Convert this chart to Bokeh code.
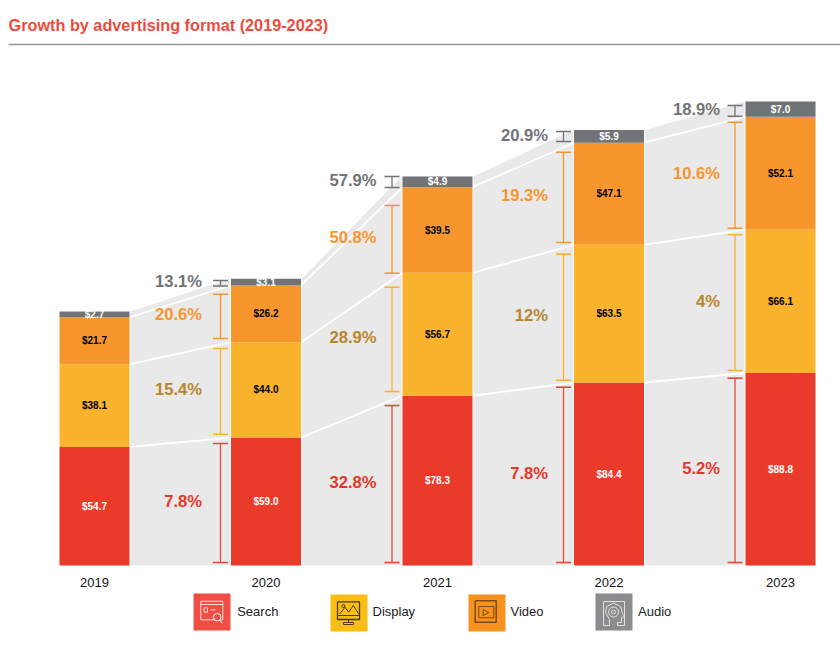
from bokeh.embed import file_html
from bokeh.resources import INLINE
from bokeh.plotting import figure
from bokeh.models import Range1d, LinearAxis, FixedTicker
from bokeh.core.properties import value

# ---- data ----
years = [2019, 2020, 2021, 2022, 2023]
tick_labels = ["2019", "2020", "2021", "2022", "2023"]
search = [54.7, 59.0, 78.3, 84.4, 88.8]
display = [38.1, 44.0, 56.7, 63.5, 66.1]
video = [21.7, 26.2, 39.5, 47.1, 52.1]
audio = [2.7, 3.1, 4.9, 5.9, 7.0]
search_growth = ["7.8%", "32.8%", "7.8%", "5.2%"]
display_growth = ["15.4%", "28.9%", "12%", "4%"]
video_growth = ["20.6%", "50.8%", "19.3%", "10.6%"]
audio_growth = ["13.1%", "57.9%", "20.9%", "18.9%"]
series_names = ["Search", "Display", "Video", "Audio"]

# ---- style / layout ----
FONT = value("Liberation Sans")
RED, YEL, ORG, GRY = "#ea3a29", "#f9b32c", "#f7962d", "#717376"
BAND = "#e9e9e9"
PCT_COL = ["#e5372a", "#b8862e", "#f7962d", "#717376"]
BRK_COL = ["#e8473c", "#f9b32c", "#f7962d", "#717376"]
ORG_X, ORG_Y = 0, 0      # window position of the figure's top-left corner
W, FH = 840, 638
PX_PER_YEAR = 171.5
PX_PER_VAL = 2.168
BASE_Y = 565.0
X2019 = 94.0
BAR_PX = 70.0
# bracket end gaps (px) per segment, per year 2020..2023: (low, high)
GAPS = {
    0: [(3, 5.9), (3, 9.8), (3, 4.7), (3, 5.2)],
    1: [(3.4, 6.3), (4.2, 14.4), (2.3, 9.3), (2.5, 5.1)],
    2: [(3.7, 8.8), (-0.4, 18.3), (2.4, 9.5), (1.5, 5.5)],
    3: [(-0.6, 1.8), (-0.3, 0.0), (1.2, 1.6), (0.5, 4.0)],
}
LAB_OFF_PX = [18.5, 15.5, 15.5, 15.0]   # growth label right end to bracket
LAB_UP_PX = 1.5

p = figure(width=W, frame_width=W, frame_height=FH, output_backend="svg", toolbar_location=None,
           x_range=Range1d(2019 + (ORG_X - X2019) / PX_PER_YEAR, 2019 + (ORG_X + W - X2019) / PX_PER_YEAR),
           y_range=Range1d((BASE_Y - (ORG_Y + FH)) / PX_PER_VAL, (BASE_Y - ORG_Y) / PX_PER_VAL),
           x_axis_location=None, y_axis_location=None,
           min_border=0, min_border_left=0, min_border_right=0, min_border_top=0, min_border_bottom=0,
           outline_line_color=None, background_fill_color="white", border_fill_color="white")
p.grid.visible = False
p.extra_x_ranges["px"] = Range1d(ORG_X, ORG_X + W)
p.extra_y_ranges["px"] = Range1d(ORG_Y + FH, ORG_Y)

ax = LinearAxis(ticker=FixedTicker(ticks=years),
                major_label_overrides={y: l for y, l in zip(years, tick_labels)},
                axis_line_color=None, major_tick_line_color=None, minor_tick_line_color=None,
                major_tick_out=0, major_tick_in=0, minor_tick_out=0, minor_tick_in=0,
                major_label_standoff=12, major_label_text_font="Liberation Sans",
                major_label_text_font_size="13px", major_label_text_color="#111111",
                fixed_location=0)
p.add_layout(ax, "below")

segs = [search, display, video, audio]
cum = [[0.0] * 5]
for s in segs:
    cum.append([a + b for a, b in zip(cum[-1], s)])

hb = BAR_PX / 2 / PX_PER_YEAR
# bands and separators
for i in range(4):
    x0 = years[i] + hb + 1 / PX_PER_YEAR
    x1 = years[i + 1] - hb - 1 / PX_PER_YEAR
    p.patch([x0, x1, x1, x0], [0, 0, cum[4][i + 1], cum[4][i]], fill_color=BAND, line_color=None)
    for k in (1, 2, 3):
        p.line([x0 - 1 / PX_PER_YEAR, x1 + 1 / PX_PER_YEAR], [cum[k][i], cum[k][i + 1]], line_color="white", line_width=1.8)

# bars
for k, col in enumerate([RED, YEL, ORG, GRY]):
    p.vbar(x=years, bottom=cum[k], top=cum[k + 1], width=BAR_PX / PX_PER_YEAR, fill_color=col, line_color=None)

# value labels
lab_cols = ["white", "black", "black", "white"]
for k in range(4):
    mids = [(a + b) / 2 for a, b in zip(cum[k], cum[k + 1])]
    p.text(x=years, y=mids, text=[f"${v:.1f}" for v in segs[k]], text_color=lab_cols[k], text_font=FONT,
           text_font_style="bold", text_font_size="10px", text_align="center", text_baseline="middle")

# brackets + growth labels
off = 45.5 / PX_PER_YEAR
cap = 7.5 / PX_PER_YEAR
growth = [search_growth, display_growth, video_growth, audio_growth]
for k in range(4):
    xs, los, his, mids = [], [], [], []
    for j in range(4):
        yr = years[j + 1]
        lo = cum[k][j + 1] + GAPS[k][j][0] / PX_PER_VAL
        hi = cum[k + 1][j + 1] - GAPS[k][j][1] / PX_PER_VAL
        xs.append(yr - off); los.append(lo); his.append(hi)
        mids.append((lo + hi) / 2 + LAB_UP_PX / PX_PER_VAL)
    p.segment(x0=xs, x1=xs, y0=los, y1=his, line_color=BRK_COL[k], line_width=1.3)
    for ends in (los, his):
        p.segment(x0=[x - cap for x in xs], x1=[x + cap for x in xs], y0=ends, y1=ends,
                  line_color=BRK_COL[k], line_width=1.6)
    p.text(x=[x - d / PX_PER_YEAR for x, d in zip(xs, LAB_OFF_PX)], y=mids, text=growth[k], text_color=PCT_COL[k],
           text_font=FONT, text_font_style="bold", text_font_size="16.6px", text_align="right", text_baseline="middle")

# ---- helpers in window pixels ----
PX = dict(x_range_name="px", y_range_name="px")

def ptxt(x, y, t, size, color, style="normal"):
    p.text(x=[x], y=[y], text=[t], text_color=color, text_font=FONT, text_font_size=size,
           text_font_style=style, text_align="left", text_baseline="middle", **PX)

ptxt(8, 24.5, "Growth by advertising format (2019-2023)", "16.25px", "#ee4b3d", "bold")
p.line([8, ORG_X + W], [44, 44], line_color="#999999", line_width=1.5, **PX)

def swatch(x, y, col):
    p.quad(left=[x], right=[x + 37], top=[y], bottom=[y + 37], fill_color=col, line_color=None, **PX)

def poly(ox, oy, pts, col, lw=1.0):
    p.line([ox + a for a, b in pts], [oy + b for a, b in pts], line_color=col, line_width=lw, **PX)

def rect(ox, oy, x0, y0, x1, y1, col, lw=1.0):
    poly(ox, oy, [(x0, y0), (x1, y0), (x1, y1), (x0, y1), (x0, y0)], col, lw)

def circ(ox, oy, cx, cy, r, col, fill=None, lw=1.0):
    p.scatter(x=[ox + cx], y=[oy + cy], size=2 * r, marker="circle", line_color=col, line_width=lw,
              fill_color=fill, fill_alpha=1.0 if fill else 0.0, **PX)

# Search
sx, sy = 193, 593
swatch(sx, sy, "#f04e45")
rect(sx, sy, 7.3, 7.7, 29.3, 26.3, "#fbdcd9")
poly(sx, sy, [(7.3, 11), (29.3, 11)], "#fbdcd9")
rect(sx, sy, 10.7, 14.3, 14, 18.7, "#fbdcd9")
poly(sx, sy, [(17, 16.3), (22, 16.3)], "#fbdcd9")
circ(sx, sy, 23.7, 23.7, 3.8, "white", "#f04e45")
poly(sx, sy, [(26.3, 26.5), (29, 30)], "white")
ptxt(236.7, 611, series_names[0], "13px", "#222222")

# Display
dx, dy = 330, 594
DK = "#4a3a10"
swatch(dx, dy, "#f9bd14")
rect(dx, dy, 7, 7.3, 29, 25, DK, 1.3)
poly(dx, dy, [(7, 21), (29, 21)], DK)
poly(dx, dy, [(9.3, 19.3), (14.6, 12.7), (18.2, 17.7), (22.9, 11), (28.2, 19.3)], DK)
circ(dx, dy, 12.9, 11.5, 1.5, DK)
poly(dx, dy, [(18, 25), (18, 28)], DK)
rect(dx, dy, 13, 28, 23, 30, DK)
ptxt(372, 611, series_names[1], "13px", "#222222")

# Video
vx, vy = 468, 594
VD = "#7a4a1a"
swatch(vx, vy, "#f8921e")
rect(vx, vy, 6.7, 6.3, 27.7, 27.7, VD, 1.5)
rect(vx, vy, 10.3, 12, 25.3, 23.3, VD, 1.0)
poly(vx, vy, [(14.7, 15), (14.7, 21), (20.3, 18), (14.7, 15)], VD)
ptxt(510, 611, series_names[2], "13px", "#222222")

# Audio
ax_, ay = 595, 593
LT = "#e2e2e2"
swatch(ax_, ay, "#8c8c8e")
poly(ax_, ay, [(22, 32), (29, 32), (29, 8), (8, 8), (8, 32), (14, 32), (14, 26), (10, 19), (11, 13),
               (18, 9.5), (25, 13), (27, 20), (29, 23), (26, 24), (26, 29), (22, 29), (22, 32)], LT)
circ(ax_, ay, 18, 18.5, 5, LT)
circ(ax_, ay, 18, 18.5, 2, LT)
ptxt(637.5, 611, series_names[3], "13px", "#222222")

open("out.html", "w").write(file_html(p, INLINE))
